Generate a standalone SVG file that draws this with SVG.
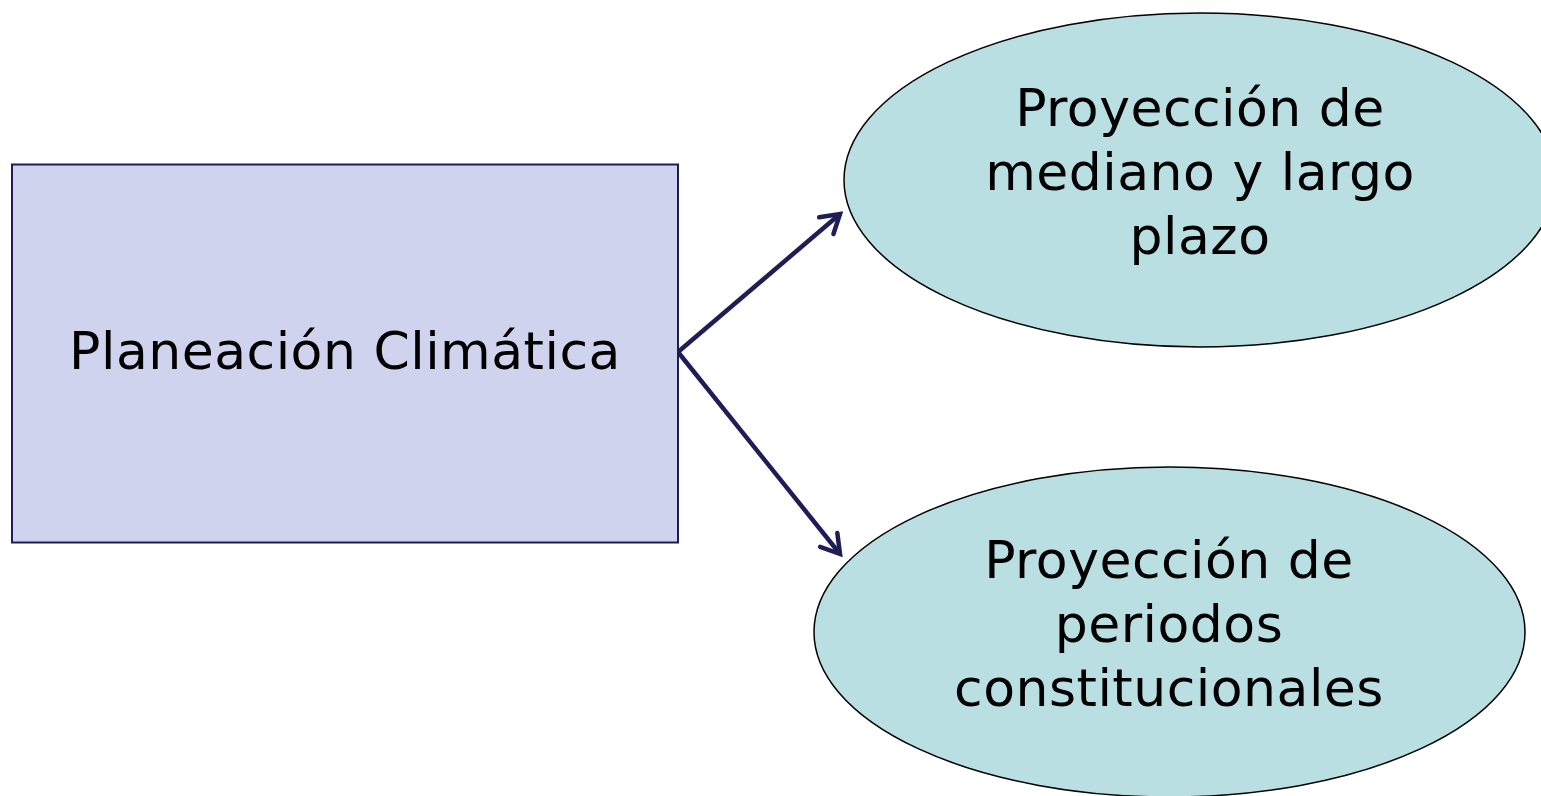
<svg xmlns="http://www.w3.org/2000/svg" width="1541" height="796" viewBox="0 0 1541 796">
<style>
.lbl{font-family:"DejaVu Sans","Liberation Sans",sans-serif;font-size:52px;fill:#000;text-anchor:middle;letter-spacing:0.5px}
.ell{fill:#B9DFE3;stroke:#000;stroke-width:1.5}
.edge{stroke:#1E1E55;stroke-width:4.5;fill:none;marker-end:url(#arr)}
</style>
<defs>
<marker id="arr" markerUnits="userSpaceOnUse" viewBox="-22 -14 26 28" markerWidth="26" markerHeight="28" refX="0" refY="0" orient="auto">
<path d="M-18,-11 L0,0 L-18,11" fill="none" stroke="#1E1E55" stroke-width="4.5" stroke-linecap="round" stroke-linejoin="miter"/>
</marker>
</defs>
<rect width="1541" height="796" fill="#fff"/>
<g id="connectors">
<line class="edge" x1="678" y1="352" x2="840" y2="214"/>
<line class="edge" x1="678" y1="352" x2="840" y2="554"/>
</g>
<g id="planeacion">
<rect x="12" y="164.5" width="666" height="378" fill="#CFD3EE" stroke="#1E1E55" stroke-width="2"/>
<text class="lbl" x="345" y="369">Planeación Climática</text>
</g>
<g id="mediano">
<ellipse class="ell" cx="1200" cy="180" rx="356" ry="167"/>
<text class="lbl" x="1200" y="126">Proyección de</text>
<text class="lbl" x="1200" y="190">mediano y largo</text>
<text class="lbl" x="1200" y="254">plazo</text>
</g>
<g id="periodos">
<ellipse class="ell" cx="1169.5" cy="632" rx="355.5" ry="165"/>
<text class="lbl" x="1169" y="578">Proyección de</text>
<text class="lbl" x="1169" y="642">periodos</text>
<text class="lbl" x="1169" y="706">constitucionales</text>
</g>
</svg>
